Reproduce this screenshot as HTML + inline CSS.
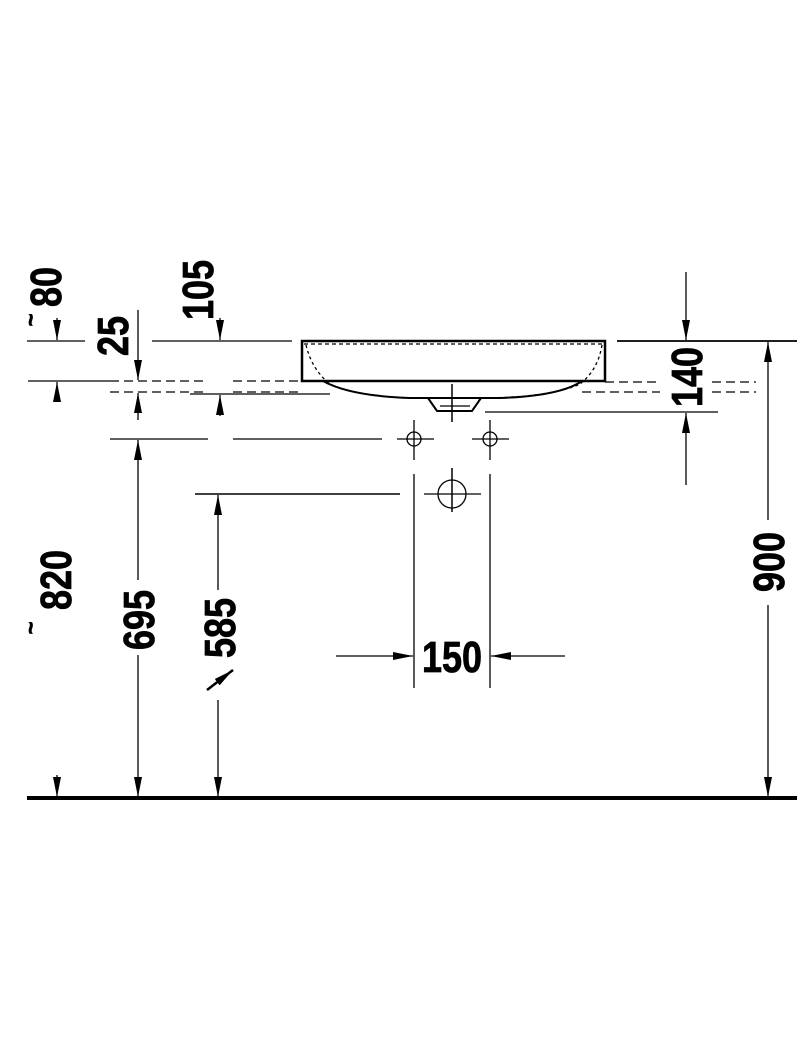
<!DOCTYPE html>
<html><head><meta charset="utf-8"><style>html,body{margin:0;padding:0;background:#fff}svg{display:block}</style></head>
<body>
<svg width="800" height="1058" viewBox="0 0 800 1058" xmlns="http://www.w3.org/2000/svg">
<defs>
<marker id="a" viewBox="0 0 20 8" refX="20" refY="4" markerWidth="20" markerHeight="8" markerUnits="userSpaceOnUse" orient="auto"><path d="M0,0L20,4L0,8z" fill="#000"/></marker>
</defs>
<g stroke="#000" fill="none" stroke-width="1.3">
<line x1="27" y1="341" x2="85" y2="341"/>
<line x1="152" y1="341" x2="292" y2="341"/>
<line x1="617" y1="341" x2="797" y2="341" stroke-width="1.8"/>
<line x1="28" y1="381" x2="110" y2="381"/>
<line x1="110" y1="381" x2="205" y2="381" stroke-dasharray="9,5"/>
<line x1="233" y1="381" x2="300" y2="381" stroke-dasharray="9,5"/>
<line x1="110" y1="392" x2="205" y2="392" stroke-dasharray="9,5"/>
<line x1="190" y1="394" x2="330" y2="394"/>
<line x1="233" y1="392" x2="300" y2="392" stroke-dasharray="9,5"/>
<line x1="605" y1="382" x2="660" y2="382" stroke-dasharray="9,5"/>
<line x1="712" y1="382" x2="756" y2="382" stroke-dasharray="9,5"/>
<line x1="582" y1="392" x2="660" y2="392" stroke-dasharray="9,5"/>
<line x1="712" y1="392" x2="756" y2="392" stroke-dasharray="9,5"/>
<line x1="485" y1="412" x2="718" y2="412"/>
<line x1="110" y1="439" x2="208" y2="439"/>
<line x1="233" y1="439" x2="382" y2="439"/>
<rect x="302" y="341" width="303" height="40" stroke-width="2.5"/>
<path d="M304,344 L603,344" stroke-dasharray="4,3"/>
<path d="M306,345 Q312,370 330,384 Q360,398 430,398" stroke-dasharray="3,3"/>
<path d="M602,345 Q598,370 580,384 Q550,398 475,398" stroke-dasharray="3,3"/>
<path d="M323,381 Q350,396 410,398 L500,398 Q560,396 582,381" stroke-width="2"/>
<path d="M428,398 L437,411 L472,411 L481,398" stroke-width="2"/>
<line x1="440" y1="406" x2="470" y2="406"/>
<line x1="452" y1="384" x2="452" y2="422" stroke-width="1.5"/>
<circle cx="414" cy="439" r="7"/>
<circle cx="490" cy="439" r="7"/>
<line x1="397" y1="439" x2="434" y2="439"/><line x1="414" y1="420" x2="414" y2="460"/>
<line x1="472" y1="439" x2="509" y2="439"/><line x1="490" y1="420" x2="490" y2="460"/>
<circle cx="452" cy="494" r="14"/>
<line x1="424" y1="494" x2="481" y2="494"/><line x1="452" y1="468" x2="452" y2="512" stroke-width="1.5"/>
<line x1="414" y1="474" x2="414" y2="688"/>
<line x1="490" y1="474" x2="490" y2="688"/>
<line x1="195" y1="494" x2="400" y2="494" stroke-width="1.6"/>
<line x1="336" y1="656" x2="413" y2="656" marker-end="url(#a)"/>
<line x1="565" y1="656" x2="491" y2="656" marker-end="url(#a)"/>
<line x1="768" y1="520" x2="768" y2="342" marker-end="url(#a)"/>
<line x1="768" y1="605" x2="768" y2="797" marker-end="url(#a)"/>
<line x1="686" y1="272" x2="686" y2="340" marker-end="url(#a)"/>
<line x1="686" y1="485" x2="686" y2="413" marker-end="url(#a)"/>
<line x1="57" y1="318" x2="57" y2="340" marker-end="url(#a)"/>
<line x1="57" y1="402" x2="57" y2="382" marker-end="url(#a)"/>
<line x1="57" y1="775" x2="57" y2="797" marker-end="url(#a)"/>
<line x1="138" y1="310" x2="138" y2="380" marker-end="url(#a)"/>
<line x1="138" y1="420" x2="138" y2="393" marker-end="url(#a)"/>
<line x1="138" y1="580" x2="138" y2="440" marker-end="url(#a)"/>
<line x1="138" y1="655" x2="138" y2="797" marker-end="url(#a)"/>
<line x1="220" y1="318" x2="220" y2="340" marker-end="url(#a)"/>
<line x1="220" y1="416" x2="220" y2="395" marker-end="url(#a)"/>
<line x1="218" y1="590" x2="218" y2="495" marker-end="url(#a)"/>
<line x1="218" y1="700" x2="218" y2="797" marker-end="url(#a)"/>
<line x1="207" y1="690" x2="233" y2="670" stroke-width="2.5" marker-end="url(#a)"/>
</g>
<line x1="27" y1="798" x2="797" y2="798" stroke="#000" stroke-width="4"/>
<g font-family="Liberation Sans, sans-serif" font-weight="bold" font-size="44" fill="#000" text-anchor="middle" stroke="#000" stroke-width="0.8">
<text x="452" y="672" textLength="60" lengthAdjust="spacingAndGlyphs">150</text>
<text transform="translate(784,562) rotate(-90)" textLength="60" lengthAdjust="spacingAndGlyphs">900</text>
<text transform="translate(702,377) rotate(-90)" textLength="60" lengthAdjust="spacingAndGlyphs">140</text>
<text transform="translate(154,620) rotate(-90)" textLength="60" lengthAdjust="spacingAndGlyphs">695</text>
<text transform="translate(235,628) rotate(-90)" textLength="60" lengthAdjust="spacingAndGlyphs">585</text>
<text transform="translate(71,580) rotate(-90)" textLength="60" lengthAdjust="spacingAndGlyphs">820</text>
<text transform="translate(213,290) rotate(-90)" textLength="60" lengthAdjust="spacingAndGlyphs">105</text>
<text transform="translate(128,336) rotate(-90)" textLength="40" lengthAdjust="spacingAndGlyphs">25</text>
<text transform="translate(61,287) rotate(-90)" textLength="40" lengthAdjust="spacingAndGlyphs">80</text>
<text transform="translate(38,628) rotate(-90)" font-size="22">~</text>
<text transform="translate(38,320) rotate(-90)" font-size="22">~</text>
</g>
</svg>
</body></html>
